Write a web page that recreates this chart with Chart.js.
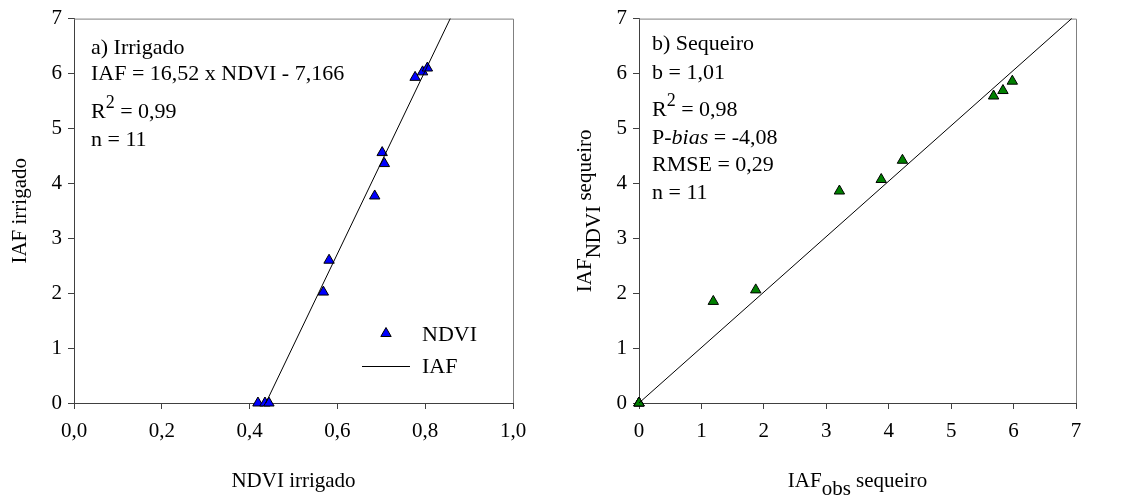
<!DOCTYPE html>
<html>
<head>
<meta charset="utf-8">
<script src="https://cdn.jsdelivr.net/npm/chart.js@4.4.1/dist/chart.umd.min.js"></script>
<style>
  body { margin: 0; background: #fff; width: 1122px; height: 495px; position: relative; overflow: hidden; }
  #boxA { position: absolute; left: 0; top: 0; width: 560px; height: 495px; }
  #boxB { position: absolute; left: 560px; top: 0; width: 562px; height: 495px; }
</style>
</head>
<body>
<div id="boxA"><canvas id="chartA" width="560" height="495"></canvas></div>
<div id="boxB"><canvas id="chartB" width="562" height="495"></canvas></div>
<script>
// a) irrigado - observed points
const ndviIrrigado = [0.419, 0.435, 0.444, 0.568, 0.581, 0.685, 0.702, 0.707, 0.777, 0.794, 0.805];
const iafIrrigado  = [0.00, 0.00, 0.00, 2.02, 2.60, 3.77, 4.56, 4.36, 5.93, 6.03, 6.10];
// fitted line
const fitNdvi = [0.437, 0.857];
const fitIaf  = [0, 7];

// b) sequeiro - observed vs estimated
const iafObsSequeiro  = [0, 0, 0, 1.19, 1.87, 3.21, 3.88, 4.22, 5.68, 5.83, 5.98];
const iafNdviSequeiro = [0, 0, 0, 1.85, 2.06, 3.86, 4.07, 4.42, 5.59, 5.69, 5.86];
const seqLineObs  = [0, 6.93];
const seqLineNdvi = [0, 7];

// tick labels
const xTicksA = ['0,0', '0,2', '0,4', '0,6', '0,8', '1,0'];
const yTicks  = ['0', '1', '2', '3', '4', '5', '6', '7'];
const xTicksB = ['0', '1', '2', '3', '4', '5', '6', '7'];

const SERIF = "'Liberation Serif', 'Times New Roman', serif";
const toPts = (xs, ys) => xs.map((x, i) => ({ x: x, y: ys[i] }));

// draws a line of text made of pieces: [text, {size, italic, dy}]
function drawRich(ctx, x, y, pieces) {
  let cx = x;
  for (const [txt, o] of pieces) {
    const opt = o || {};
    ctx.font = (opt.italic ? 'italic ' : '') + (opt.size || 22) + 'px ' + SERIF;
    ctx.fillText(txt, cx, y + (opt.dy || 0));
    cx += ctx.measureText(txt).width;
  }
  return cx - x;
}
function richWidth(ctx, pieces) {
  let w = 0;
  for (const [txt, o] of pieces) {
    const opt = o || {};
    ctx.font = (opt.italic ? 'italic ' : '') + (opt.size || 22) + 'px ' + SERIF;
    w += ctx.measureText(txt).width;
  }
  return w;
}

function makeDecorPlugin(cfg) {
  return {
    id: 'decor',
    beforeDatasetsDraw(chart) {
      const ctx = chart.ctx, a = chart.chartArea;
      ctx.save();
      ctx.strokeStyle = '#808080';
      ctx.lineWidth = 1;
      ctx.beginPath();
      ctx.moveTo(a.left, a.top + 0.5);
      ctx.lineTo(a.right + 0.5, a.top + 0.5);
      ctx.lineTo(a.right + 0.5, a.bottom);
      ctx.stroke();
      ctx.restore();
    },
    afterDraw(chart) {
      const ctx = chart.ctx, a = chart.chartArea;
      ctx.save();
      ctx.fillStyle = '#000';
      ctx.textBaseline = 'alphabetic';
      ctx.textAlign = 'left';
      // annotation block
      cfg.notes.forEach((line, i) => {
        drawRich(ctx, a.left + cfg.noteDx, a.top + cfg.noteBase[i], line);
      });
      // x title
      const xw = richWidth(ctx, cfg.xTitle);
      drawRich(ctx, (a.left + a.right) / 2 - xw / 2, 487, cfg.xTitle);
      // y title (rotated)
      ctx.translate(cfg.yTitleX, (a.top + a.bottom) / 2);
      ctx.rotate(-Math.PI / 2);
      const yw = richWidth(ctx, cfg.yTitle);
      drawRich(ctx, -yw / 2, 0, cfg.yTitle);
      ctx.restore();
      if (cfg.legend) cfg.legend(chart);
    }
  };
}

function baseScales(xmin, xmax, xstep, xLabels, yAxisWidth) {
  const tickFont = { family: SERIF, size: 21 };
  return {
    x: {
      type: 'linear', min: xmin, max: xmax,
      afterFit: s => { s.height = 92; },
      ticks: { stepSize: xstep, color: '#000', font: tickFont, padding: 10,
               maxRotation: 0, autoSkip: false, callback: (v, i) => xLabels[i] },
      grid: { drawOnChartArea: false, drawTicks: true, tickLength: 6, color: '#404040' },
      border: { color: '#404040' },
      title: { display: false }
    },
    y: {
      type: 'linear', min: 0, max: 7,
      afterFit: s => { s.width = yAxisWidth; },
      ticks: { stepSize: 1, color: '#000', font: tickFont, padding: 6,
               callback: (v, i) => yTicks[i] },
      grid: { drawOnChartArea: false, drawTicks: true, tickLength: 6, color: '#404040' },
      border: { color: '#404040' },
      title: { display: false }
    }
  };
}

const commonOpts = {
  responsive: false,
  animation: false,
  plugins: { legend: { display: false }, tooltip: { enabled: false } }
};

// ---------- chart a) ----------
new Chart(document.getElementById('chartA'), {
  type: 'scatter',
  data: {
    datasets: [
      { label: 'IAF', data: toPts(fitNdvi, fitIaf), showLine: true, pointRadius: 0,
        borderColor: '#000', borderWidth: 1, clip: false },
      { label: 'NDVI', data: toPts(ndviIrrigado, iafIrrigado), pointStyle: 'triangle',
        pointRadius: 6, backgroundColor: '#0000ff', borderColor: '#000', borderWidth: 1, clip: false }
    ]
  },
  options: Object.assign({}, commonOpts, {
    layout: { padding: { left: 0, top: 16, right: 47, bottom: 0 } },
    scales: baseScales(0, 1, 0.2, xTicksA, 74)
  }),
  plugins: [makeDecorPlugin({
    noteDx: 17, noteBase: [35, 61.7, 99, 127.3],
    notes: [
      [['a) Irrigado']],
      [['IAF = 16,52 x NDVI - 7,166']],
      [['R'], ['2', { size: 18, dy: -10 }], [' = 0,99']],
      [['n = 11']]
    ],
    xTitle: [['NDVI irrigado', { size: 21 }]],
    yTitle: [['IAF irrigado', { size: 21 }]],
    yTitleX: 26,
    legend: chart => {
      const ctx = chart.ctx;
      ctx.save();
      ctx.fillStyle = '#0000ff'; ctx.strokeStyle = '#000'; ctx.lineWidth = 1;
      ctx.beginPath();
      ctx.moveTo(386, 327.5); ctx.lineTo(391.2, 336.5); ctx.lineTo(380.8, 336.5); ctx.closePath();
      ctx.fill(); ctx.stroke();
      ctx.beginPath();
      ctx.moveTo(362, 366.5); ctx.lineTo(410, 366.5); ctx.stroke();
      ctx.fillStyle = '#000';
      ctx.font = '22px ' + SERIF;
      ctx.textBaseline = 'middle';
      ctx.fillText('NDVI', 422, 335);
      ctx.fillText('IAF', 422, 367);
      ctx.restore();
    }
  })]
});

// ---------- chart b) ----------
new Chart(document.getElementById('chartB'), {
  type: 'scatter',
  data: {
    datasets: [
      { label: '1:1', data: toPts(seqLineObs, seqLineNdvi), showLine: true, pointRadius: 0,
        borderColor: '#000', borderWidth: 1, clip: false },
      { label: 'IAF', data: toPts(iafObsSequeiro, iafNdviSequeiro), pointStyle: 'triangle',
        pointRadius: 6, backgroundColor: '#008000', borderColor: '#000', borderWidth: 1, clip: false }
    ]
  },
  options: Object.assign({}, commonOpts, {
    layout: { padding: { left: 0, top: 16, right: 46, bottom: 0 } },
    scales: baseScales(0, 7, 1, xTicksB, 79)
  }),
  plugins: [makeDecorPlugin({
    noteDx: 13, noteBase: [31.7, 60, 97, 125.7, 152.3, 180.7],
    notes: [
      [['b) Sequeiro']],
      [['b = 1,01']],
      [['R'], ['2', { size: 18, dy: -10 }], [' = 0,98']],
      [['P-'], ['bias', { italic: true }], [' = -4,08']],
      [['RMSE = 0,29']],
      [['n = 11']]
    ],
    xTitle: [['IAF', { size: 21 }], ['obs', { size: 21, dy: 8 }], [' sequeiro', { size: 21 }]],
    yTitle: [['IAF', { size: 21 }], ['NDVI', { size: 21, dy: 9 }], [' sequeiro', { size: 21 }]],
    yTitleX: 31
  })]
});
</script>
</body>
</html>
